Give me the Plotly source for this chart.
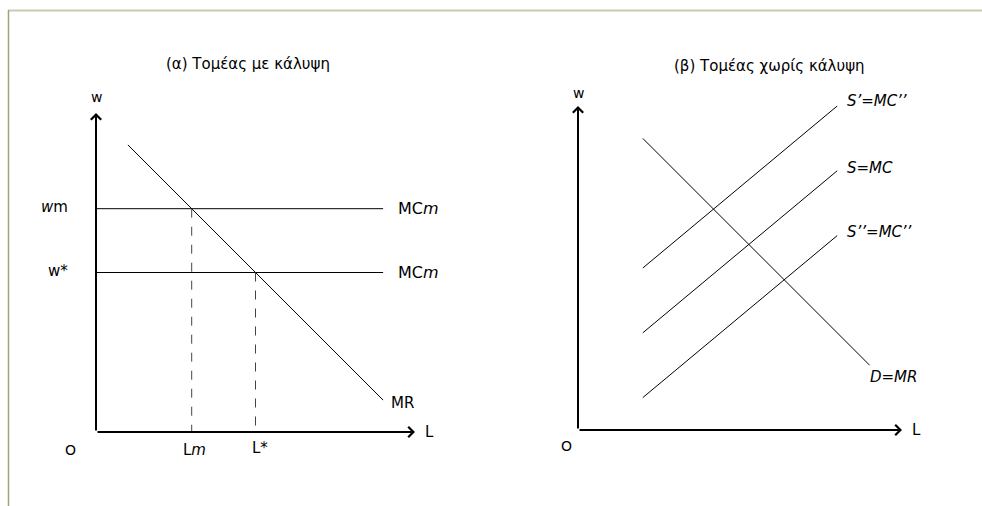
import plotly.graph_objects as go

# ---- Panel (α): covered sector ----
mr_L = [1, 9]          # marginal revenue curve endpoints (L)
mr_w = [9, 1]          # marginal revenue curve endpoints (w)
w_m = 7                # union wage
w_star = 5             # competitive wage
L_m = 3                # employment at w_m
L_star = 5             # employment at w*
mc_end = 9             # horizontal MC lines run to this L

# ---- Panel (β): uncovered sector ----
d_L = [2, 9]
d_w = [9, 2]
s_hi_L = [2, 8]        # S'=MC''
s_hi_w = [5, 10]
s_mid_L = [2, 8]       # S=MC
s_mid_w = [3, 8]
s_lo_L = [2, 8]        # S''=MC''
s_lo_w = [1, 6]
axis_len = 10

W, H = 982, 506
FONT = "DejaVu Sans"

fig = go.Figure()

line = dict(color="black", width=1)
dash = dict(color="#444444", width=1, dash="dash")

# Panel α traces
fig.add_trace(go.Scatter(x=mr_L, y=mr_w, mode="lines", line=line, xaxis="x", yaxis="y"))
fig.add_trace(go.Scatter(x=[0, mc_end], y=[w_m, w_m], mode="lines", line=line, xaxis="x", yaxis="y"))
fig.add_trace(go.Scatter(x=[0, mc_end], y=[w_star, w_star], mode="lines", line=line, xaxis="x", yaxis="y"))
fig.add_trace(go.Scatter(x=[L_m, L_m], y=[w_m, 0], mode="lines", line=dash, xaxis="x", yaxis="y"))
fig.add_trace(go.Scatter(x=[L_star, L_star], y=[w_star, 0], mode="lines", line=dash, xaxis="x", yaxis="y"))

# Panel β traces
for xs, ys in [(d_L, d_w), (s_hi_L, s_hi_w), (s_mid_L, s_mid_w), (s_lo_L, s_lo_w)]:
    fig.add_trace(go.Scatter(x=xs, y=ys, mode="lines", line=line, xaxis="x2", yaxis="y2"))


def ranges(ox, oy, scale, left, width):
    """Axis ranges so that data origin lands on pixel (ox, oy)."""
    x0 = -(ox - left) / scale
    x1 = x0 + width / scale
    y0 = -(H - oy) / scale
    y1 = y0 + H / scale
    return [x0, x1], [y0, y1]


xr1, yr1 = ranges(96, 432, 31.9, 0, W / 2)
xr2, yr2 = ranges(578, 430, 32.4, W / 2, W / 2)

hidden = dict(visible=False, showgrid=False, zeroline=False, fixedrange=True)
fig.update_layout(
    xaxis=dict(domain=[0, 0.5], range=xr1, **hidden),
    yaxis=dict(domain=[0, 1], range=yr1, **hidden),
    xaxis2=dict(domain=[0.5, 1], range=xr2, anchor="y2", **hidden),
    yaxis2=dict(domain=[0, 1], range=yr2, anchor="x2", **hidden),
)

ann = []


def arrow(xref, yref, x, y, ax, ay):
    ann.append(dict(xref=xref, yref=yref, axref=xref, ayref=yref, x=x, y=y, ax=ax, ay=ay,
                    text="", showarrow=True, arrowhead=4, arrowsize=1, arrowwidth=2,
                    arrowcolor="black", standoff=0, startstandoff=0))


def label(xref, yref, x, y, text, xanchor="center", size=13):
    ann.append(dict(xref=xref, yref=yref, x=x, y=y, text=text, showarrow=False,
                    xanchor=xanchor, yanchor="middle",
                    font=dict(family=FONT, size=size, color="black")))


# axes with arrowheads
arrow("x", "y", axis_len, 0, 0, 0)
arrow("x", "y", 0, axis_len, 0, 0)
arrow("x2", "y2", axis_len, 0, 0, 0)
arrow("x2", "y2", 0, axis_len, 0, 0)

# panel α labels
label("x", "y", 4.76, 11.54, "(α) Τομέας με κάλυψη", size=15)
label("x", "y", 0, 10.5, "w", size=14)
label("x", "y", 10.45, 0, "L", size=15)
label("x", "y", -0.8, -0.55, "O", size=14)
label("x", "y", -0.8, w_m + 0.05, "<i>w</i>m", xanchor="right", size=15)
label("x", "y", -0.8, w_star + 0.05, "w*", xanchor="right", size=15)
label("x", "y", mc_end + 0.4, w_m, "MC<i>m</i>", xanchor="left", size=16)
label("x", "y", mc_end + 0.4, w_star, "MC<i>m</i>", xanchor="left", size=16)
label("x", "y", mc_end + 0.2, 0.9, "MR", xanchor="left", size=15)
label("x", "y", L_m + 0.1, -0.55, "L<i>m</i>", size=15)
label("x", "y", L_star + 0.15, -0.5, "L*", size=15)

# panel β labels
label("x2", "y2", 5.9, 11.25, "(β) Τομέας χωρίς κάλυψη", size=15)
label("x2", "y2", 0, 10.4, "w", size=14)
label("x2", "y2", 10.45, 0, "L", size=15)
label("x2", "y2", -0.35, -0.5, "O", size=14)
label("x2", "y2", s_hi_L[1] + 0.25, s_hi_w[1] + 0.15, "<i>S’=MC’’</i>", xanchor="left", size=15)
label("x2", "y2", s_mid_L[1] + 0.25, s_mid_w[1] + 0.1, "<i>S=MC</i>", xanchor="left", size=15)
label("x2", "y2", s_lo_L[1] + 0.25, s_lo_w[1] + 0.1, "<i>S’’=MC’’</i>", xanchor="left", size=15)
label("x2", "y2", d_L[1] + 0.75, d_w[1] - 0.35, "<i>D=MR</i>", size=15)

# page frame
shapes = [
    dict(type="line", xref="paper", yref="paper", x0=8 / W, x1=1, y0=1 - 10.5 / H, y1=1 - 10.5 / H,
         line=dict(color="#c9ccb2", width=2)),
    dict(type="line", xref="paper", yref="paper", x0=8.5 / W, x1=8.5 / W, y0=0, y1=1 - 10 / H,
         line=dict(color="#9ea477", width=1.5)),
]

fig.update_layout(
    width=W, height=H, autosize=False,
    margin=dict(l=0, r=0, t=0, b=0),
    paper_bgcolor="white", plot_bgcolor="white",
    showlegend=False,
    annotations=ann, shapes=shapes,
    font=dict(family=FONT),
)

fig.write_html("out.html")
